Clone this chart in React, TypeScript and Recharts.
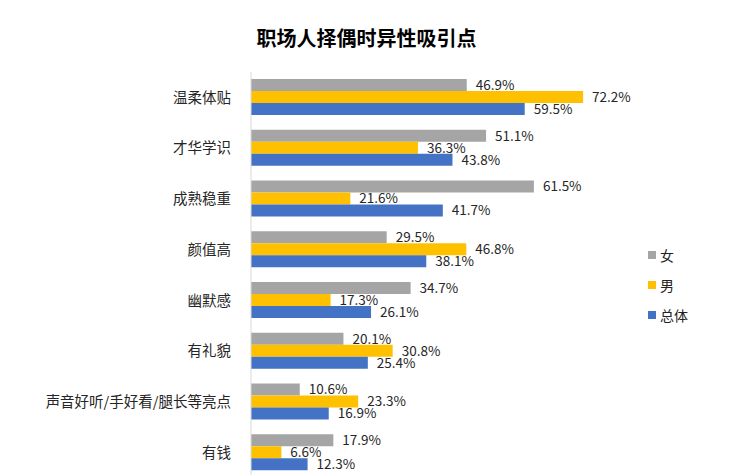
import { Bar, BarChart, LabelList, XAxis, YAxis } from "recharts";

const categories = ["温柔体贴", "才华学识", "成熟稳重", "颜值高", "幽默感", "有礼貌", "声音好听/手好看/腿长等亮点", "有钱"];
const female = [46.9, 51.1, 61.5, 29.5, 34.7, 20.1, 10.6, 17.9];
const male = [72.2, 36.3, 21.6, 46.8, 17.3, 30.8, 23.3, 6.6];
const overall = [59.5, 43.8, 41.7, 38.1, 26.1, 25.4, 16.9, 12.3];

const seriesList = [
  { key: "female", name: "女", color: "#a5a5a5" },
  { key: "male", name: "男", color: "#ffc000" },
  { key: "overall", name: "总体", color: "#4472c4" }
];

const rows = categories.map((name, i) => ({
  name,
  female: female[i],
  male: male[i],
  overall: overall[i]
}));

const font = "'Microsoft YaHei', 'Noto Sans CJK SC', sans-serif";

export default function App() {
  return (
    <div style={{ position: "absolute", left: 0, top: 0, width: 737, height: 475, overflow: "hidden", background: "#fff" }}>
      <div
        style={{
          position: "absolute",
          top: 25,
          left: 0,
          width: 733,
          textAlign: "center",
          fontFamily: font,
          fontWeight: "bold",
          fontSize: 20,
          lineHeight: "26px",
          color: "#000"
        }}
      >
        职场人择偶时异性吸引点
      </div>
      {/* legend */}
      <div style={{ position: "absolute", left: 648, top: 240, fontFamily: font, fontSize: 14, color: "#222" }}>
        {seriesList.map((s) => (
          <div key={s.key} style={{ display: "flex", alignItems: "center", height: 30 }}>
            <span style={{ width: 8, height: 8, background: s.color, display: "inline-block", marginRight: 4 }} />
            <span>{s.name}</span>
          </div>
        ))}
      </div>
      <BarChart
        width={737}
        height={478}
        data={rows}
        layout="vertical"
        margin={{ top: 72, right: 118, bottom: 0, left: 0 }}
        barSize={12}
        barGap={0}
      >
        <XAxis type="number" domain={[0, 80]} hide />
        <YAxis
          type="category"
          dataKey="name"
          width={251}
          axisLine={{ stroke: "#d9d9d9" }}
          tickLine={false}
          tickMargin={14}
          tick={{ fill: "#262626", fontSize: 14.5, fontFamily: font }}
          interval={0}
        />
        {seriesList.map((s) => (
          <Bar key={s.key} dataKey={s.key} name={s.name} fill={s.color} isAnimationActive={false}>
            <LabelList
              dataKey={s.key}
              position="right"
              offset={9}
              formatter={(v: number) => `${v.toFixed(1)}%`}
              style={{ fill: "#262626", fontSize: 13.5, fontFamily: font }}
            />
          </Bar>
        ))}
      </BarChart>
    </div>
  );
}
